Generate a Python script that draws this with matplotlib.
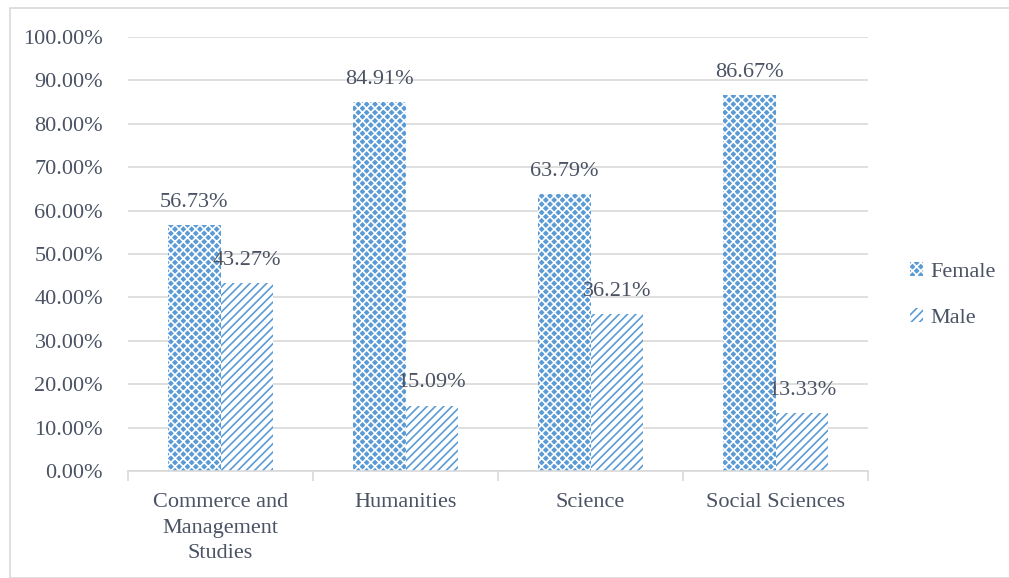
import matplotlib
matplotlib.use("Agg")
import matplotlib.pyplot as plt
import numpy as np
from matplotlib.patches import Rectangle

categories = ["Commerce and\nManagement\nStudies", "Humanities", "Science", "Social Sciences"]
female = [56.73, 84.91, 63.79, 86.67]
male = [43.27, 15.09, 36.21, 13.33]
yticks = [0, 10, 20, 30, 40, 50, 60, 70, 80, 90, 100]

blue = "#5B9BD5"
text_color = "#4A5263"
grid_color = "#D9D9D9"

plt.rcParams["font.family"] = ["Liberation Serif", "DejaVu Serif"]
plt.rcParams["hatch.linewidth"] = 1.2

fig = plt.figure(figsize=(10.09, 5.78), dpi=100)
ax = fig.add_axes([128 / 1009, 1 - 471 / 578, 740 / 1009, 434 / 578])

x = np.arange(len(categories))
w = 0.284
fs = 16

bf = ax.bar(x - w / 2, female, w, color=blue, edgecolor="white", linewidth=0,
            hatch="xxxx", label="Female", zorder=2)
bm = ax.bar(x + w / 2, male, w, color="white", edgecolor=blue, linewidth=0,
            hatch="////", label="Male", zorder=2)

for xi, v in zip(x - w / 2, female):
    ax.text(xi, v + 3.0, f"{v:.2f}%", ha="center", va="bottom", fontsize=fs, color=text_color)
for xi, v in zip(x + w / 2, male):
    ax.text(xi, v + 3.0, f"{v:.2f}%", ha="center", va="bottom", fontsize=fs, color=text_color)

ax.set_ylim(0, 100)
ax.set_xlim(-0.5, len(categories) - 0.5)
ax.set_yticks(yticks)
ax.set_yticklabels([f"{t:.2f}%" for t in yticks])
ax.yaxis.grid(True, color=grid_color, linewidth=1.2, zorder=0)
ax.set_axisbelow(True)

ax.set_xticks(x)
ax.set_xticklabels(categories, linespacing=1.45)
ax.set_xticks(np.arange(len(categories) + 1) - 0.5, minor=True)
ax.tick_params(axis="x", which="major", length=0, pad=16, labelsize=fs, colors=text_color)
ax.tick_params(axis="x", which="minor", length=7, color=grid_color, width=1.2)
ax.tick_params(axis="y", length=0, pad=18, labelsize=fs, colors=text_color)

for s in ["top", "right", "left"]:
    ax.spines[s].set_visible(False)
ax.spines["bottom"].set_color(grid_color)
ax.spines["bottom"].set_linewidth(1.2)

leg = fig.legend(handles=[bf, bm], loc="center left", bbox_to_anchor=(890 / 1009, 1 - 295 / 578),
                 frameon=False, fontsize=fs, handlelength=0.6, handleheight=0.6,
                 handletextpad=0.3, labelspacing=1.2, labelcolor=text_color)

fig.patches.append(Rectangle((10 / 1009, 0), 1.0, 1 - 8 / 578, transform=fig.transFigure,
                             fill=False, edgecolor="#D9D9D9", linewidth=1.2))

fig.savefig("out.png", dpi=100)
